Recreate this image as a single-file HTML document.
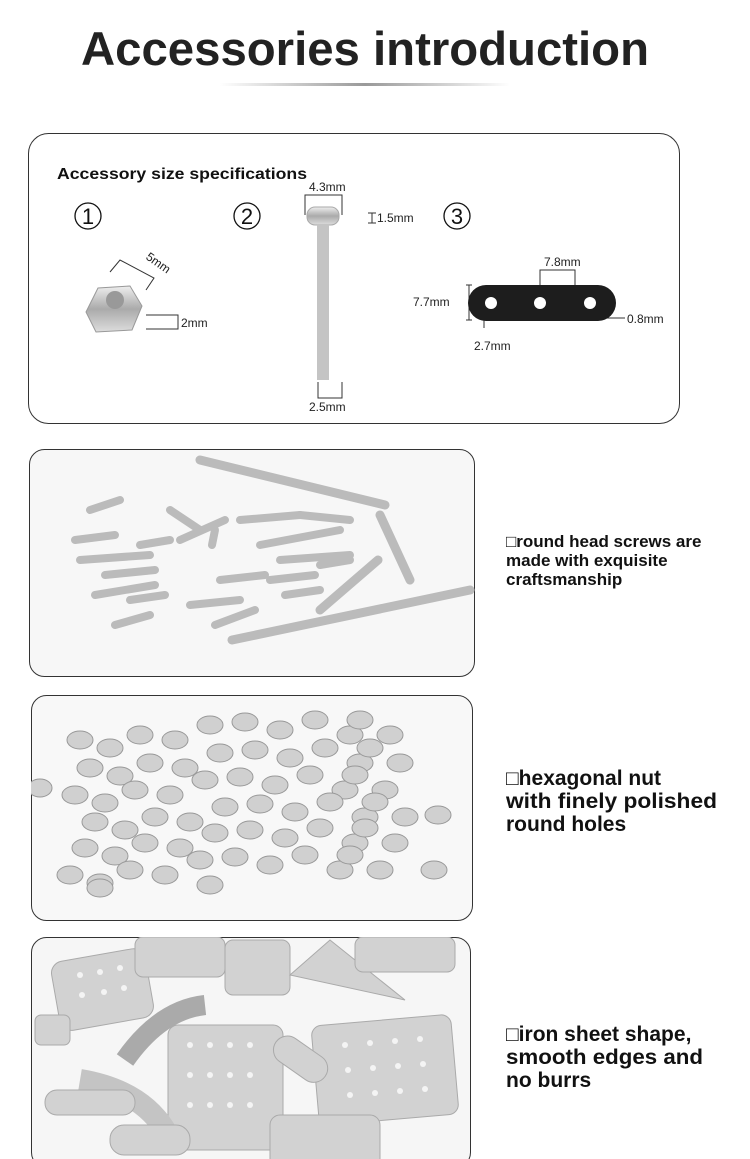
<!DOCTYPE html>
<html><head><meta charset="utf-8"><style>
body{margin:0;width:750px;height:1159px;background:#fff;overflow:hidden;font-family:"Liberation Sans",sans-serif;}
svg{display:block}
</style></head><body>
<svg width="750" height="1159" viewBox="0 0 750 1159" xmlns="http://www.w3.org/2000/svg">
<defs>
<linearGradient id="ul" x1="0" x2="1"><stop offset="0" stop-color="#fff"/><stop offset=".5" stop-color="#999"/><stop offset="1" stop-color="#fff"/></linearGradient>
<linearGradient id="met" x1="0" x2="0" y1="0" y2="1"><stop offset="0" stop-color="#eee"/><stop offset=".5" stop-color="#aaa"/><stop offset="1" stop-color="#ddd"/></linearGradient>
<clipPath id="c2"><rect x="29" y="449" width="446" height="228" rx="15"/></clipPath>
<clipPath id="c3"><rect x="31" y="695" width="442" height="226" rx="15"/></clipPath>
<clipPath id="c4"><rect x="31" y="937" width="440" height="230" rx="15"/></clipPath>
</defs>
<text x="365" y="65" text-anchor="middle" font-size="47" font-weight="bold" fill="#222" textLength="568" lengthAdjust="spacingAndGlyphs">Accessories introduction</text>
<rect x="220" y="83" width="290" height="3" fill="url(#ul)"/>

<rect x="28.5" y="133.5" width="651" height="290" rx="20" fill="#fff" stroke="#333"/>
<text x="57" y="179" font-size="16" font-weight="bold" fill="#111" textLength="250" lengthAdjust="spacingAndGlyphs">Accessory size specifications</text>
<g font-size="22" fill="#111" text-anchor="middle"><circle cx="88" cy="216" r="13" fill="none" stroke="#111" stroke-width="1.3"/><text x="88" y="224">1</text>
<circle cx="247" cy="216" r="13" fill="none" stroke="#111" stroke-width="1.3"/><text x="247" y="224">2</text>
<circle cx="457" cy="216" r="13" fill="none" stroke="#111" stroke-width="1.3"/><text x="457" y="224">3</text></g>
<polygon points="86,312 98,288 130,286 142,306 132,330 96,332" fill="url(#met)" stroke="#999"/>
<circle cx="115" cy="300" r="9" fill="#999"/>
<g stroke="#333" fill="none" stroke-width="1"><path d="M110 272 L120 260 L154 278 L146 290"/><path d="M146 315 H178 V329 H146"/><path d="M305 215 V195 H342 V215"/><path d="M372 213 V223 M368 213 H376 M368 223 H376"/><path d="M318 382 V398 H342 V382"/><path d="M469 285 V320 M466 285 H472 M466 320 H472"/><path d="M540 285 V270 H575 V285"/><path d="M603 318 H625"/><path d="M484 310 V328"/></g>
<g font-size="12" fill="#222"><text x="309" y="191">4.3mm</text><text x="377" y="222">1.5mm</text><text x="309" y="411">2.5mm</text><text x="181" y="327">2mm</text><text x="144" y="262" transform="rotate(35 150 262)">5mm</text><text x="544" y="266">7.8mm</text><text x="413" y="306">7.7mm</text><text x="474" y="350">2.7mm</text><text x="627" y="323">0.8mm</text></g>
<rect x="307" y="207" width="32" height="18" rx="8" fill="url(#met)" stroke="#aaa"/>
<rect x="317" y="224" width="12" height="156" fill="#c4c4c4"/>
<rect x="468" y="285" width="148" height="36" rx="18" fill="#1d1d1d"/>
<g fill="#fff"><circle cx="491" cy="303" r="6"/><circle cx="540" cy="303" r="6"/><circle cx="590" cy="303" r="6"/></g>

<rect x="29.5" y="449.5" width="445" height="227" rx="15" fill="#f7f7f7" stroke="#333"/>
<g clip-path="url(#c2)" stroke="#bbb" stroke-width="9" stroke-linecap="round">
<line x1="200" y1="460" x2="385" y2="505"/><line x1="232" y1="640" x2="470" y2="590"/><line x1="380" y1="515" x2="410" y2="580"/><line x1="320" y1="610" x2="378" y2="560"/>
<g stroke-width="8"><line x1="90" y1="510" x2="120" y2="500"/><line x1="75" y1="540" x2="115" y2="535"/><line x1="80" y1="560" x2="150" y2="555"/><line x1="105" y1="575" x2="155" y2="570"/><line x1="95" y1="595" x2="155" y2="585"/><line x1="130" y1="600" x2="165" y2="595"/><line x1="115" y1="625" x2="150" y2="615"/><line x1="170" y1="510" x2="200" y2="530"/><line x1="180" y1="540" x2="225" y2="520"/><line x1="190" y1="605" x2="240" y2="600"/><line x1="220" y1="580" x2="265" y2="575"/><line x1="215" y1="625" x2="255" y2="610"/><line x1="240" y1="520" x2="300" y2="515"/><line x1="260" y1="545" x2="340" y2="530"/><line x1="280" y1="560" x2="350" y2="555"/><line x1="270" y1="580" x2="315" y2="575"/><line x1="285" y1="595" x2="320" y2="590"/><line x1="300" y1="515" x2="350" y2="520"/><line x1="140" y1="545" x2="170" y2="540"/><line x1="215" y1="530" x2="212" y2="545"/><line x1="320" y1="565" x2="350" y2="560"/></g></g>

<rect x="31.5" y="695.5" width="441" height="225" rx="15" fill="#f8f8f8" stroke="#333"/>
<g clip-path="url(#c3)" fill="#d0d0d0" stroke="#999">
<g id="nr">
<ellipse cx="80" cy="740" rx="13" ry="9"/><ellipse cx="110" cy="748" rx="13" ry="9"/><ellipse cx="140" cy="735" rx="13" ry="9"/><ellipse cx="175" cy="740" rx="13" ry="9"/><ellipse cx="210" cy="725" rx="13" ry="9"/><ellipse cx="245" cy="722" rx="13" ry="9"/><ellipse cx="280" cy="730" rx="13" ry="9"/><ellipse cx="315" cy="720" rx="13" ry="9"/><ellipse cx="350" cy="735" rx="13" ry="9"/><ellipse cx="390" cy="735" rx="13" ry="9"/><ellipse cx="360" cy="720" rx="13" ry="9"/>
</g>
<use href="#nr" y="28" x="10"/><use href="#nr" y="55" x="-5"/><use href="#nr" y="82" x="15"/><use href="#nr" y="108" x="5"/><use href="#nr" y="135" x="-10"/>
<ellipse cx="40" cy="788" rx="12" ry="9"/><ellipse cx="438" cy="815" rx="13" ry="9"/><ellipse cx="434" cy="870" rx="13" ry="9"/><ellipse cx="100" cy="888" rx="13" ry="9"/><ellipse cx="210" cy="885" rx="13" ry="9"/>
</g>

<rect x="31.5" y="937.5" width="439" height="230" rx="15" fill="#f6f6f6" stroke="#333"/>
<g clip-path="url(#c4)" fill="#d2d2d2" stroke="#aaa">
<rect x="55" y="955" width="95" height="70" rx="12" transform="rotate(-10 100 990)"/>
<rect x="135" y="937" width="90" height="40" rx="8"/><rect x="225" y="940" width="65" height="55" rx="8"/>
<polygon points="290,975 330,940 405,1000"/><rect x="355" y="937" width="100" height="35" rx="8"/>
<rect x="168" y="1025" width="115" height="125" rx="10"/><rect x="315" y="1020" width="140" height="100" rx="10" transform="rotate(-5 385 1070)"/>
<path d="M125 1060 Q160 1010 205 1005" stroke="#aaa" stroke-width="20" fill="none"/><path d="M80 1080 Q140 1090 165 1130" stroke="#c4c4c4" stroke-width="22" fill="none"/>
<rect x="45" y="1090" width="90" height="25" rx="12"/><rect x="270" y="1045" width="60" height="28" rx="14" transform="rotate(35 300 1060)"/>
<rect x="35" y="1015" width="35" height="30" rx="6"/><rect x="270" y="1115" width="110" height="60" rx="10"/><rect x="110" y="1125" width="80" height="30" rx="14"/>
</g>
<g fill="#f4f4f4">
<circle cx="80" cy="975" r="3"/><circle cx="100" cy="972" r="3"/><circle cx="120" cy="968" r="3"/><circle cx="82" cy="995" r="3"/><circle cx="104" cy="992" r="3"/><circle cx="124" cy="988" r="3"/>
<circle cx="190" cy="1045" r="3"/><circle cx="210" cy="1045" r="3"/><circle cx="230" cy="1045" r="3"/><circle cx="250" cy="1045" r="3"/><circle cx="190" cy="1075" r="3"/><circle cx="210" cy="1075" r="3"/><circle cx="230" cy="1075" r="3"/><circle cx="250" cy="1075" r="3"/><circle cx="190" cy="1105" r="3"/><circle cx="210" cy="1105" r="3"/><circle cx="230" cy="1105" r="3"/><circle cx="250" cy="1105" r="3"/>
<circle cx="345" cy="1045" r="3"/><circle cx="370" cy="1043" r="3"/><circle cx="395" cy="1041" r="3"/><circle cx="420" cy="1039" r="3"/><circle cx="348" cy="1070" r="3"/><circle cx="373" cy="1068" r="3"/><circle cx="398" cy="1066" r="3"/><circle cx="423" cy="1064" r="3"/><circle cx="350" cy="1095" r="3"/><circle cx="375" cy="1093" r="3"/><circle cx="400" cy="1091" r="3"/><circle cx="425" cy="1089" r="3"/>
</g>

<g font-weight="bold" fill="#111">
<text font-size="17"><tspan x="506" y="547">□round head screws are</tspan><tspan x="506" y="566">made with exquisite</tspan><tspan x="506" y="585">craftsmanship</tspan></text>
<text font-size="21"><tspan x="506" y="785">□hexagonal nut</tspan><tspan x="506" y="808" textLength="211" lengthAdjust="spacingAndGlyphs">with finely polished</tspan><tspan x="506" y="831">round holes</tspan></text>
<text font-size="21"><tspan x="506" y="1041">□iron sheet shape,</tspan><tspan x="506" y="1064" textLength="197" lengthAdjust="spacingAndGlyphs">smooth edges and</tspan><tspan x="506" y="1087">no burrs</tspan></text>
</g>
</svg>
</body></html>
